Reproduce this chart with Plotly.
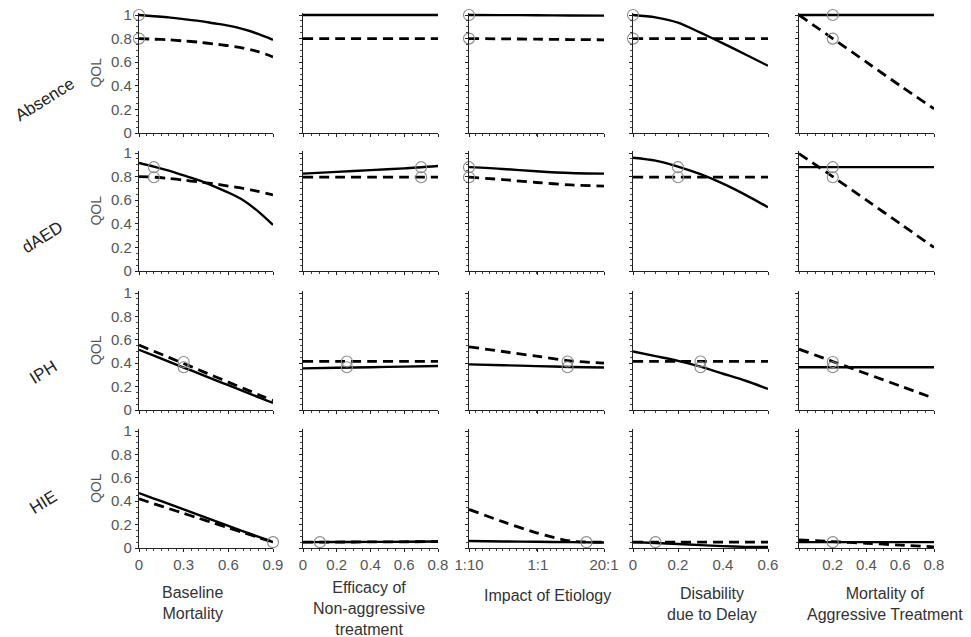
import plotly.graph_objects as go

# the page body adds an 8px margin, so the figure is drawn 8px smaller and all
# reference pixel positions are shifted by that amount
OFF = 8
W, H = 971 - OFF, 637 - OFF

row_labels = ["Absence", "dAED", "IPH", "HIE"]
col_titles = ["Baseline<br>Mortality", "Efficacy of<br>Non-aggressive<br>treatment",
              "Impact of Etiology", "Disability<br>due to Delay",
              "Mortality of<br>Aggressive Treatment"]

# x grids for each column
bm_x = [0, 0.1, 0.2, 0.3, 0.4, 0.5, 0.6, 0.7, 0.8, 0.9]
eff_x = [0, 0.2, 0.4, 0.6, 0.8]
etio_x = [0, 0.25, 0.5, 0.75, 1.0]          # position on the 1:10 ... 20:1 scale
dis_x = [0, 0.1, 0.2, 0.3, 0.4, 0.5, 0.6]
mort_x = [0, 0.2, 0.4, 0.6, 0.8]
col_x = [bm_x, eff_x, etio_x, dis_x, mort_x]

# tick definitions
bm_ticks = [0, 0.3, 0.6, 0.9]
eff_ticks = [0, 0.2, 0.4, 0.6, 0.8]
etio_tickvals = [0, 0.51, 1.0]
etio_ticktext = ["1:10", "1:1", "20:1"]
dis_ticks = [0, 0.2, 0.4, 0.6]
mort_ticks = [0.2, 0.4, 0.6, 0.8]
qol_ticks = [0, 0.2, 0.4, 0.6, 0.8, 1]

# ---- QOL values: solid line (aggressive) and dashed line (non-aggressive)
# Absence
abs_bm_solid = [1.0, 0.99, 0.98, 0.965, 0.95, 0.93, 0.91, 0.88, 0.84, 0.79]
abs_bm_dash = [0.80, 0.795, 0.79, 0.78, 0.77, 0.755, 0.74, 0.72, 0.69, 0.645]
abs_eff_solid = [1.0, 1.0, 1.0, 1.0, 1.0]
abs_eff_dash = [0.8, 0.8, 0.8, 0.8, 0.8]
abs_etio_solid = [1.0, 0.999, 0.998, 0.996, 0.995]
abs_etio_dash = [0.80, 0.798, 0.795, 0.792, 0.79]
abs_dis_solid = [1.0, 0.98, 0.935, 0.85, 0.76, 0.665, 0.57]
abs_dis_dash = [0.8, 0.8, 0.8, 0.8, 0.8, 0.8, 0.8]
abs_mort_solid = [1.0, 1.0, 1.0, 1.0, 1.0]
abs_mort_dash = [1.0, 0.8, 0.6, 0.4, 0.205]
# dAED
daed_bm_solid = [0.915, 0.885, 0.85, 0.81, 0.77, 0.72, 0.665, 0.60, 0.505, 0.39]
daed_bm_dash = [0.80, 0.795, 0.785, 0.77, 0.755, 0.74, 0.72, 0.70, 0.675, 0.645]
daed_eff_solid = [0.825, 0.84, 0.855, 0.87, 0.89]
daed_eff_dash = [0.795, 0.795, 0.795, 0.795, 0.795]
daed_etio_solid = [0.88, 0.865, 0.845, 0.83, 0.825]
daed_etio_dash = [0.795, 0.775, 0.75, 0.73, 0.72]
daed_dis_solid = [0.96, 0.935, 0.885, 0.82, 0.74, 0.645, 0.54]
daed_dis_dash = [0.795, 0.795, 0.795, 0.795, 0.795, 0.795, 0.795]
daed_mort_solid = [0.88, 0.88, 0.88, 0.88, 0.88]
daed_mort_dash = [0.995, 0.80, 0.60, 0.40, 0.20]
# IPH
iph_bm_solid = [0.515, 0.465, 0.414, 0.363, 0.313, 0.262, 0.212, 0.161, 0.111, 0.06]
iph_bm_dash = [0.555, 0.502, 0.450, 0.397, 0.344, 0.291, 0.238, 0.186, 0.133, 0.08]
iph_eff_solid = [0.356, 0.361, 0.366, 0.371, 0.376]
iph_eff_dash = [0.415, 0.415, 0.415, 0.415, 0.415]
iph_etio_solid = [0.39, 0.383, 0.375, 0.368, 0.363]
iph_etio_dash = [0.54, 0.50, 0.46, 0.42, 0.40]
iph_dis_solid = [0.50, 0.46, 0.42, 0.37, 0.31, 0.25, 0.18]
iph_dis_dash = [0.415, 0.415, 0.415, 0.415, 0.415, 0.415, 0.415]
iph_mort_solid = [0.365, 0.365, 0.365, 0.365, 0.365]
iph_mort_dash = [0.52, 0.415, 0.31, 0.205, 0.10]
# HIE
hie_bm_solid = [0.47, 0.423, 0.377, 0.33, 0.283, 0.237, 0.19, 0.143, 0.097, 0.05]
hie_bm_dash = [0.42, 0.378, 0.337, 0.296, 0.255, 0.214, 0.173, 0.132, 0.091, 0.05]
hie_eff_solid = [0.05, 0.051, 0.052, 0.053, 0.055]
hie_eff_dash = [0.05, 0.051, 0.052, 0.053, 0.055]
hie_etio_solid = [0.06, 0.056, 0.053, 0.05, 0.047]
hie_etio_dash = [0.33, 0.225, 0.13, 0.06, 0.05]
hie_dis_solid = [0.05, 0.043, 0.034, 0.025, 0.016, 0.01, 0.008]
hie_dis_dash = [0.05, 0.05, 0.05, 0.05, 0.05, 0.05, 0.05]
hie_mort_solid = [0.05, 0.05, 0.05, 0.05, 0.05]
hie_mort_dash = [0.07, 0.055, 0.04, 0.025, 0.01]

solid = [
    [abs_bm_solid, abs_eff_solid, abs_etio_solid, abs_dis_solid, abs_mort_solid],
    [daed_bm_solid, daed_eff_solid, daed_etio_solid, daed_dis_solid, daed_mort_solid],
    [iph_bm_solid, iph_eff_solid, iph_etio_solid, iph_dis_solid, iph_mort_solid],
    [hie_bm_solid, hie_eff_solid, hie_etio_solid, hie_dis_solid, hie_mort_solid],
]
dashed = [
    [abs_bm_dash, abs_eff_dash, abs_etio_dash, abs_dis_dash, abs_mort_dash],
    [daed_bm_dash, daed_eff_dash, daed_etio_dash, daed_dis_dash, daed_mort_dash],
    [iph_bm_dash, iph_eff_dash, iph_etio_dash, iph_dis_dash, iph_mort_dash],
    [hie_bm_dash, hie_eff_dash, hie_etio_dash, hie_dis_dash, hie_mort_dash],
]

# baseline-case points (open circles): (x, [y values]) per panel, None = no marker
base_pts = [
    [(0, [1.0, 0.8]), None, (0, [1.0, 0.8]), (0, [1.0, 0.8]), (0.2, [1.0, 0.8])],
    [(0.1, [0.88, 0.795]), (0.7, [0.88, 0.795]), (0, [0.88, 0.795]), (0.2, [0.88, 0.795]), (0.2, [0.88, 0.795])],
    [(0.3, [0.41, 0.365]), (0.26, [0.415, 0.365]), (0.73, [0.415, 0.365]), (0.3, [0.415, 0.365]), (0.2, [0.41, 0.365])],
    [(0.9, [0.05]), (0.1, [0.05]), (0.87, [0.05]), (0.1, [0.05]), (0.2, [0.05])],
]

# ---- layout geometry (reference pixels)
col_left = [139, 303, 469, 633, 799]
col_right = [273, 438, 604, 768, 934]
row_top = [15, 153, 293, 431]
row_bot = [133, 271, 410, 548]
YMAX = 1.02


def fx(px):
    return (px - OFF) / W


def fy(py):
    return 1 - (py - OFF) / H


x_ranges = [[0, 0.9], [0, 0.8], [0, 1.0], [0, 0.6], [0, 0.8]]
x_minor = [0.05, 0.05, 0.05, 0.05, 0.05]
x_tickvals = [bm_ticks, eff_ticks, etio_tickvals, dis_ticks, mort_ticks]
x_ticktext = [[("%g" % v) for v in bm_ticks], [("%g" % v) for v in eff_ticks], etio_ticktext,
              [("%g" % v) for v in dis_ticks], [("%g" % v) for v in mort_ticks]]

FONT = "Liberation Sans, Arial, sans-serif"
TICKCOL = "#555555"
AXCOL = "#222222"

fig = go.Figure()
layout = dict(width=W, height=H, margin=dict(l=0, r=0, t=0, b=0, pad=0), autosize=False,
              template="none",
              paper_bgcolor="white", plot_bgcolor="white", showlegend=False,
              font=dict(family=FONT, color=TICKCOL, size=14))

annotations = []
for r in range(4):
    for c in range(5):
        n = r * 5 + c + 1
        xa = "x" if n == 1 else "x%d" % n
        ya = "y" if n == 1 else "y%d" % n
        xs = col_x[c]
        fig.add_trace(go.Scatter(x=xs, y=dashed[r][c], mode="lines", xaxis=xa, yaxis=ya,
                                 line=dict(color="black", width=2.8, dash="10px,6px", shape="spline", smoothing=0.8),
                                 hoverinfo="skip"))
        fig.add_trace(go.Scatter(x=xs, y=solid[r][c], mode="lines", xaxis=xa, yaxis=ya,
                                 line=dict(color="black", width=2.4, shape="spline", smoothing=0.8),
                                 hoverinfo="skip"))
        bp = base_pts[r][c]
        if bp is not None:
            fig.add_trace(go.Scatter(x=[bp[0]] * len(bp[1]), y=bp[1], mode="markers",
                                     xaxis=xa, yaxis=ya, cliponaxis=False,
                                     marker=dict(symbol="circle-open", size=11,
                                                 color="#8a8a8a", line=dict(width=1.1)),
                                     hoverinfo="skip"))
        bot = row_bot[r]
        top = bot - YMAX * (row_bot[r] - row_top[r])
        xkey = "xaxis" if n == 1 else "xaxis%d" % n
        ykey = "yaxis" if n == 1 else "yaxis%d" % n
        layout[xkey] = dict(
            domain=[fx(col_left[c]), fx(col_right[c])], anchor=ya, range=x_ranges[c],
            automargin=False, ticklabeloverflow="allow",
            showgrid=False, zeroline=False, showline=True, linecolor=AXCOL, linewidth=1.3,
            ticks="outside", ticklen=3, tickcolor=AXCOL, tickwidth=1,
            tickmode="array", tickvals=x_tickvals[c], ticktext=x_ticktext[c],
            showticklabels=(r == 3), tickfont=dict(size=15, color=TICKCOL, family=FONT),
            minor=dict(dtick=x_minor[c], ticklen=2, tickcolor="#444444", ticks="outside", showgrid=False),
            fixedrange=True)
        layout[ykey] = dict(
            domain=[fy(bot), fy(top)], anchor=xa, range=[0, YMAX],
            automargin=False, ticklabeloverflow="allow",
            showgrid=False, zeroline=False, showline=True, linecolor=AXCOL, linewidth=1.3,
            ticks="outside", ticklen=3, tickcolor=AXCOL, tickwidth=1,
            tickmode="array", tickvals=qol_ticks, ticktext=[("%g" % v) for v in qol_ticks],
            showticklabels=(c == 0), tickfont=dict(size=15, color=TICKCOL, family=FONT),
            minor=dict(dtick=0.05, ticklen=2, tickcolor="#444444", ticks="outside", showgrid=False),
            title=dict(text="QOL" if c == 0 else "", font=dict(size=14, color=TICKCOL, family=FONT), standoff=6),
            fixedrange=True)

# row labels
row_label_pos = [(45, 100), (42, 237), (43, 372), (43, 502)]
for lab, (px, py) in zip(row_labels, row_label_pos):
    annotations.append(dict(text=lab, x=fx(px), y=fy(py), xref="paper", yref="paper",
                            showarrow=False, textangle=-32, xanchor="center", yanchor="middle",
                            font=dict(size=17, color="#222222", family=FONT)))

# column (x-axis) titles
title_pos = [(192, 603), (369, 608), (547, 595), (712, 604), (885, 604)]
for t, (px, py) in zip(col_titles, title_pos):
    annotations.append(dict(text=t, x=fx(px), y=fy(py), xref="paper", yref="paper",
                            showarrow=False, xanchor="center", yanchor="middle", align="center",
                            font=dict(size=16, color="#333333", family=FONT)))

layout["annotations"] = annotations
fig.update_layout(**layout)
fig.write_html("out.html")
